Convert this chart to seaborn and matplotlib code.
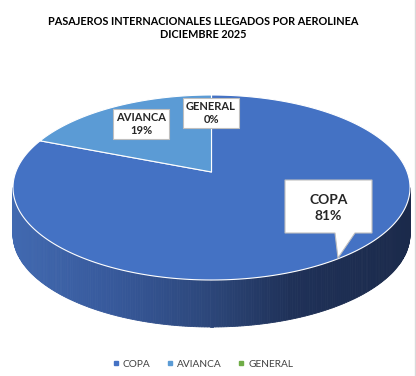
import numpy as np
import matplotlib
matplotlib.use("Agg")
import matplotlib.pyplot as plt
from matplotlib.patches import Polygon
from matplotlib.lines import Line2D
from matplotlib.colors import LinearSegmentedColormap
import seaborn as sns

# data
airlines = ["COPA", "AVIANCA", "GENERAL"]
share = [81, 19, 0]
pct_labels = ["81%", "19%", "0%"]
colors = sns.color_palette(["#4472C4", "#5B9BD5", "#70AD47"])
title = "PASAJEROS INTERNACIONALES LLEGADOS POR AEROLINEA\nDICIEMBRE 2025"

sns.set_theme(style="white")
plt.rcParams["font.family"] = ["Lato", "DejaVu Sans"]

fig = plt.figure(figsize=(4.16, 3.76), dpi=100)
ax = fig.add_axes([0, 0, 1, 1])
ax.set_xlim(0, 416)
ax.set_ylim(376, 0)
ax.axis("off")

# 3D pie in pixel space, simple perspective of a tilted disc
cx, cy = 211.5, 172
A, B, k = 195.7, 89.9, 0.1676
depth = 47


def proj(theta):
    u, v = np.sin(theta), np.cos(theta)
    w = 1 + k * v
    return cx + A * u / w, cy - B * v / w


# side wall (front visible part), shaded lighter on the left, dark on the right
side_cmap = LinearSegmentedColormap.from_list(
    "side", [(0, "#4169b0"), (0.25, "#37599b"), (0.5, "#2c4679"),
             (0.7, "#1f3158"), (1, "#1b2a4b")])
t_side = np.linspace(np.arccos(-k), 2 * np.pi - np.arccos(-k), 240)
xs, ys = proj(t_side)
for i in range(len(t_side) - 1):
    xm = (xs[i] + xs[i + 1]) / 2
    c = side_cmap(np.clip((xm - xs.min()) / (xs.max() - xs.min()), 0, 1))
    quad = [(xs[i], ys[i]), (xs[i + 1], ys[i + 1]),
            (xs[i + 1], ys[i + 1] + depth), (xs[i], ys[i] + depth)]
    ax.add_patch(Polygon(quad, closed=True, fc=c, ec=c, lw=0.6))

# top face wedges, clockwise from 12 o'clock
total = sum(share)
start = 0.0
for name, val, col in zip(airlines, share, colors):
    end = start + val / total * 2 * np.pi
    if val > 0:
        t = np.linspace(start, end, 300)
        px, py = proj(t)
        pts = [(cx, cy)] + list(zip(px, py))
        ax.add_patch(Polygon(pts, closed=True, fc=col, ec="white", lw=0.8,
                             joinstyle="round"))
    start = end

# data labels
box = dict(boxstyle="square,pad=0.3", fc="white", ec="#bfbfbf", lw=0.8)
ax.text(141, 124, f"{airlines[1]}\n{pct_labels[1]}", ha="center", va="center",
        fontsize=8, fontweight="bold", color="#262626", linespacing=1.2,
        bbox=box)
ax.text(211, 113, f"{airlines[2]}\n{pct_labels[2]}", ha="center", va="center",
        fontsize=8, fontweight="bold", color="#262626", linespacing=1.2,
        bbox=box)

# COPA callout
callout = [(285, 180), (372, 180), (372, 233), (355, 233), (338, 258),
           (335, 233), (285, 233)]
ax.add_patch(Polygon(callout, closed=True, fc="white", ec="#bfbfbf", lw=0.8))
ax.text(328.5, 208, f"{airlines[0]}\n{pct_labels[0]}", ha="center",
        va="center", fontsize=10, fontweight="bold", color="#262626",
        linespacing=1.3)

# title
ax.text(203, 28, title, ha="center", va="center", fontsize=7.8,
        fontweight="bold", color="black", linespacing=1.3)

# legend
handles = [Line2D([], [], ls="none", marker="s", ms=3.5, mfc=c, mec=c)
           for c in colors]
ax.legend(handles, airlines, loc="center", bbox_to_anchor=(202 / 416, 1 - 364 / 376),
          ncol=3, frameon=False, fontsize=7.3, handletextpad=0.2,
          columnspacing=1.4, handlelength=1.0, labelcolor="#404040")

# chart border on the right
ax.plot([415, 415], [0, 376], color="#d9d9d9", lw=1)

fig.savefig("out.png", dpi=100)
